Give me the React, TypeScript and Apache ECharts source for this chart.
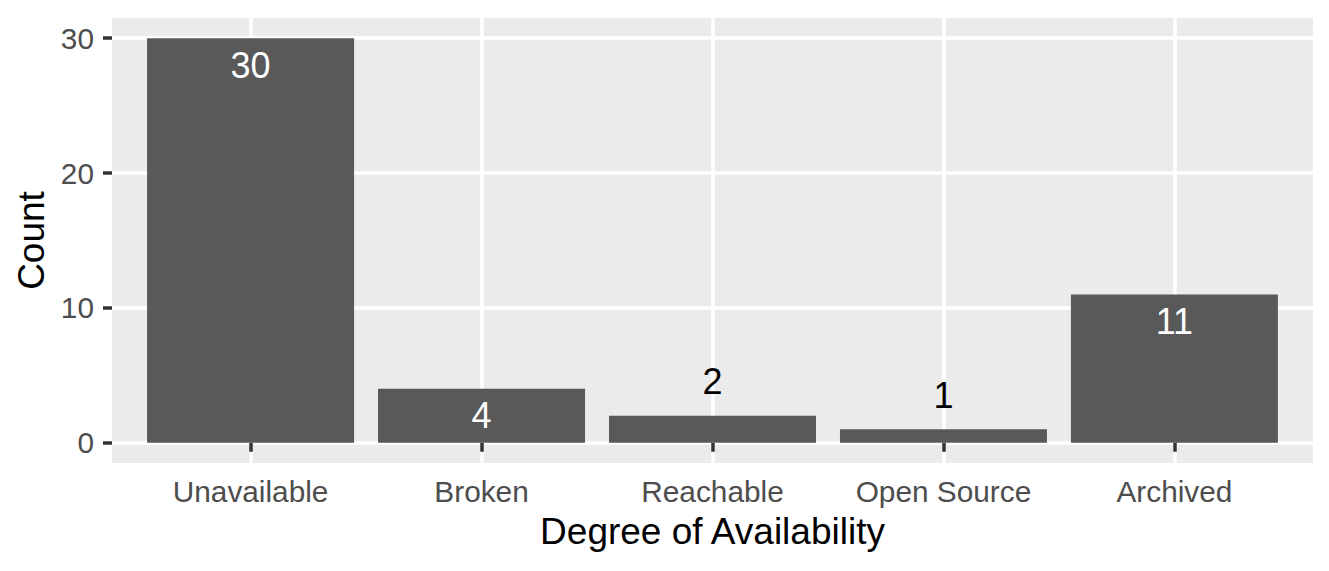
import React, { useEffect, useRef } from "react";
import * as echarts from "echarts";

const categories = ["Unavailable", "Broken", "Reachable", "Open Source", "Archived"];
const counts = [30, 4, 2, 1, 11];
const yTicks = [0, 10, 20, 30];
const xTicks = [1, 2, 3, 4, 5];

const FONT = "'Liberation Sans', Arial, Helvetica, sans-serif";

export default function App() {
  const ref = useRef<HTMLDivElement>(null);
  useEffect(() => {
    document.body.style.margin = "0";
    if (!ref.current) return;
    const chart = echarts.init(ref.current, null, { renderer: "svg" });
    const data = counts.map((v, i) => {
      const inside = v >= 4;
      return {
        value: [xTicks[i], v],
        label: inside
          ? { position: "insideTop", distance: 9, color: "#FFFFFF" }
          : { position: "top", distance: 16, color: "#000000" },
      };
    });
    chart.setOption({
      animation: false,
      backgroundColor: "#FFFFFF",
      textStyle: { fontFamily: FONT },
      grid: {
        left: 112,
        right: 16,
        top: 18,
        bottom: 108,
        show: true,
        backgroundColor: "#EBEBEB",
        borderWidth: 0,
      },
      xAxis: {
        type: "value",
        min: 0.4,
        max: 5.6,
        name: "Degree of Availability",
        nameLocation: "middle",
        nameGap: 50,
        nameTextStyle: { fontSize: 37, color: "#000000", fontFamily: FONT },
        axisLine: { show: false },
        axisTick: {
          show: true,
          customValues: xTicks,
          length: 9,
          lineStyle: { color: "#333333", width: 3.5 },
        },
        axisLabel: {
          customValues: xTicks,
          formatter: (v: number) => categories[Math.round(v) - 1] ?? "",
          fontSize: 29.8,
          color: "#4D4D4D",
          margin: 13,
          fontFamily: FONT,
        },
        splitLine: { show: true, lineStyle: { color: "#FFFFFF", width: 3.5 } },
      },
      yAxis: {
        type: "value",
        min: -1.5,
        max: 31.5,
        name: "Count",
        nameLocation: "middle",
        nameGap: 62,
        nameRotate: 90,
        nameTextStyle: { fontSize: 37, color: "#000000", fontFamily: FONT },
        axisLine: { show: false },
        axisTick: {
          show: true,
          customValues: yTicks,
          length: 9,
          lineStyle: { color: "#333333", width: 3.5 },
        },
        axisLabel: {
          customValues: yTicks,
          fontSize: 29.8,
          color: "#4D4D4D",
          margin: 18,
          fontFamily: FONT,
        },
        splitLine: { show: true, lineStyle: { color: "#FFFFFF", width: 3.5 } },
      },
      series: [
        {
          type: "bar",
          data,
          barWidth: 207,
          itemStyle: { color: "#595959" },
          label: { show: true, fontSize: 36, fontFamily: FONT, formatter: (p: any) => String(p.value[1]) },
        },
      ],
    });
    return () => chart.dispose();
  }, []);
  return <div ref={ref} style={{ width: 1329, height: 571 }} />;
}
